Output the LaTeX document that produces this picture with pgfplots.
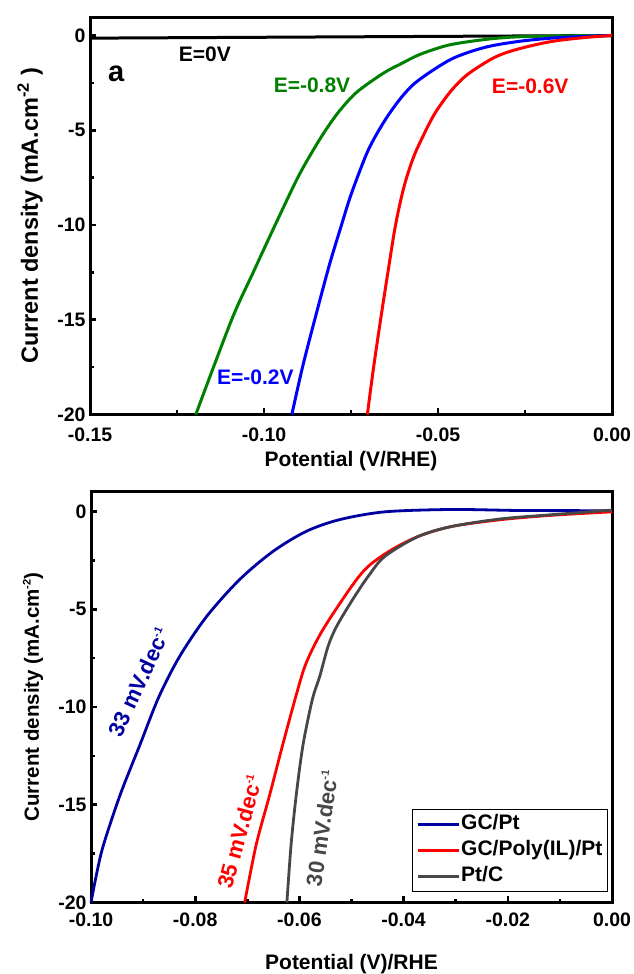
\documentclass[border=0pt]{standalone}
\usepackage{fontspec}
\setmainfont{Liberation Sans}
\usepackage{pgfplots}
\pgfplotsset{compat=1.18}
\definecolor{GreenE}{HTML}{008000}
\definecolor{BlueE}{HTML}{0000FF}
\definecolor{RedE}{HTML}{FF0000}
\definecolor{NavyPt}{HTML}{0000A0}
\definecolor{GrayPt}{HTML}{474747}
\newcommand{\fsz}[1]{\fontsize{#1}{#1}\selectfont\bfseries}
\newcommand{\supm}[1]{\raisebox{0.75ex}{\fontsize{11}{11}\selectfont #1}}

\pgfplotsset{panel/.style={
  scale only axis,
  axis line style={line width=3pt},
  tick align=inside, xtick pos=bottom, ytick pos=left,
  major tick length=6pt, minor tick length=4pt,
  every tick/.style={line width=2.6pt,black},
  ymin=-20,
  ytick={-20,-15,-10,-5,0}, minor ytick={-17.5,-12.5,-7.5,-2.5},
  tick label style={font=\fsz{19.5}},
  /pgf/number format/assume math mode=true,
  yticklabel style={/pgf/number format/fixed,xshift=-1pt},
  xticklabel style={/pgf/number format/fixed,/pgf/number format/fixed zerofill,/pgf/number format/precision=2},
  every axis x label/.style={at={(axis description cs:0.5,0)},anchor=north,inner sep=0pt},
  every axis y label/.style={at={(axis description cs:0,0.5)},anchor=center,rotate=90,inner sep=0pt},
  clip=false,
}}

\begin{document}
\begin{tikzpicture}
\path[use as bounding box] (0,0) rectangle (634pt,974pt);

% panel a
\begin{axis}[panel, at={(90pt,559.5pt)}, anchor=south west,
  width=522pt, height=397pt,
  xmin=-0.15, xmax=0, ymax=0.95,
  xtick={-0.15,-0.10,-0.05,0}, minor xtick={-0.125,-0.075,-0.025},
  xticklabel style={yshift=-10pt},
  xlabel={Potential (V/RHE)},
  ylabel={Current density (mA.cm\textsuperscript{-2} )},
  xlabel style={font=\fsz{21},yshift=-37pt},
  ylabel style={font=\fsz{23.5},yshift=60pt}]
\addplot[black,line width=3pt] coordinates {(-0.15,-0.14) (0,0)};
\addplot[GreenE,line width=3pt,smooth] coordinates {
  (-0.1196,-20) (-0.1093,-15) (-0.1031,-12.5) (-0.0968,-10)
  (-0.0903,-7.5) (-0.0857,-6) (-0.0823,-5) (-0.0784,-4) (-0.0734,-3)
  (-0.0658,-2) (-0.0607,-1.5) (-0.0552,-1) (-0.0468,-0.5)
  (-0.036,-0.2) (-0.027,-0.07) (-0.014,-0.02) (0,0)};
\addplot[BlueE,line width=3pt,smooth] coordinates {
  (-0.092,-20) (-0.0888,-17.4) (-0.085,-14.7) (-0.0812,-12.1)
  (-0.0779,-10.1) (-0.0749,-8.35) (-0.0701,-6.07) (-0.0653,-4.49)
  (-0.0605,-3.26) (-0.0558,-2.39) (-0.0462,-1.25) (-0.0366,-0.63)
  (-0.0271,-0.32) (-0.0175,-0.14) (-0.008,-0.05) (0,0)};
\addplot[RedE,line width=3pt,smooth] coordinates {
  (-0.0703,-20) (-0.0685,-17.5) (-0.0665,-15) (-0.0644,-12.5)
  (-0.0622,-10) (-0.0598,-8) (-0.0572,-6.5) (-0.0548,-5.5)
  (-0.051,-4.14) (-0.0462,-2.91) (-0.0414,-2.04) (-0.0338,-1.16)
  (-0.0271,-0.72) (-0.0175,-0.32) (-0.008,-0.11) (0,0)};
\node[font=\fsz{21}] at (axis cs:-0.117,-1.0) {E=0V};
\node[font=\fsz{29}] at (axis cs:-0.1425,-2.0) {a};
\node[font=\fsz{21},text=GreenE] at (axis cs:-0.0862,-2.63) {E=-0.8V};
\node[font=\fsz{21},text=RedE] at (axis cs:-0.0235,-2.66) {E=-0.6V};
\node[font=\fsz{21},text=BlueE] at (axis cs:-0.1025,-18.05) {E=-0.2V};
\end{axis}

% panel b
\begin{axis}[panel, at={(91pt,71.5pt)}, anchor=south west,
  width=521pt, height=411pt,
  xmin=-0.1, xmax=0, ymax=1.02,
  xtick={-0.10,-0.08,-0.06,-0.04,-0.02,0}, minor xtick={-0.09,-0.07,-0.05,-0.03,-0.01},
  xticklabel style={yshift=-7pt},
  xlabel={Potential (V)/RHE},
  ylabel={Current density (mA.cm\supm{-2})},
  xlabel style={font=\fsz{21},yshift=-52pt},
  ylabel style={font=\fsz{20.5},yshift=58pt},
  legend cell align=left,
  legend style={at={(0.992,0.025)},anchor=south east,draw=black,line width=0.9pt,
    font=\fsz{21},inner xsep=4pt,inner ysep=4pt,row sep=4pt,
    nodes={inner sep=1pt,text height=15pt,text depth=5pt}},
  legend image code/.code={\draw[#1,line width=3pt] (0pt,0pt) -- (41pt,0pt);}]
\addplot[NavyPt,line width=2.8pt,smooth] coordinates {
  (-0.1,-20) (-0.0989,-18.5) (-0.0976,-17.05) (-0.0944,-14.49)
  (-0.0906,-11.93) (-0.087,-9.5) (-0.083,-7.42) (-0.0778,-5.37)
  (-0.0715,-3.49) (-0.0651,-2.05) (-0.0587,-1.02) (-0.0523,-0.42)
  (-0.0436,-0.02) (-0.0308,0.1) (-0.0181,0.05) (-0.0053,0.04) (0,0.04)};
\addlegendentry{GC/Pt}
\addplot[RedE,line width=2.8pt,smooth] coordinates {
  (-0.0705,-20) (-0.0683,-17.05) (-0.0657,-14.49) (-0.0632,-11.93)
  (-0.0606,-9.38) (-0.0587,-7.75) (-0.0555,-6.05) (-0.05,-3.84)
  (-0.0468,-2.81) (-0.0423,-1.96) (-0.0372,-1.28) (-0.0308,-0.77)
  (-0.0213,-0.42) (-0.0117,-0.2) (0,-0.02)};
\addlegendentry{GC/Poly(IL)/Pt}
\addplot[GrayPt,line width=2.8pt,smooth] coordinates {
  (-0.0624,-20) (-0.0616,-17.05) (-0.0606,-14.49) (-0.0593,-11.93)
  (-0.0575,-9.6) (-0.0561,-8.44) (-0.0545,-6.9) (-0.0529,-5.9)
  (-0.05,-4.6) (-0.0468,-3.32) (-0.0436,-2.3) (-0.0372,-1.28)
  (-0.0308,-0.77) (-0.0213,-0.38) (-0.0117,-0.17) (0,0.07)};
\addlegendentry{Pt/C}
\node[font=\fsz{22},text=NavyPt,rotate=65] at (axis cs:-0.0908,-8.74) {33 mV.dec\supm{-1}};
\node[font=\fsz{22},text=RedE,rotate=74.5] at (axis cs:-0.0715,-16.37) {35 mV.dec\supm{-1}};
\node[font=\fsz{22},text=GrayPt,rotate=81.6] at (axis cs:-0.0557,-16.2) {30 mV.dec\supm{-1}};
\end{axis}
\end{tikzpicture}
\end{document}
